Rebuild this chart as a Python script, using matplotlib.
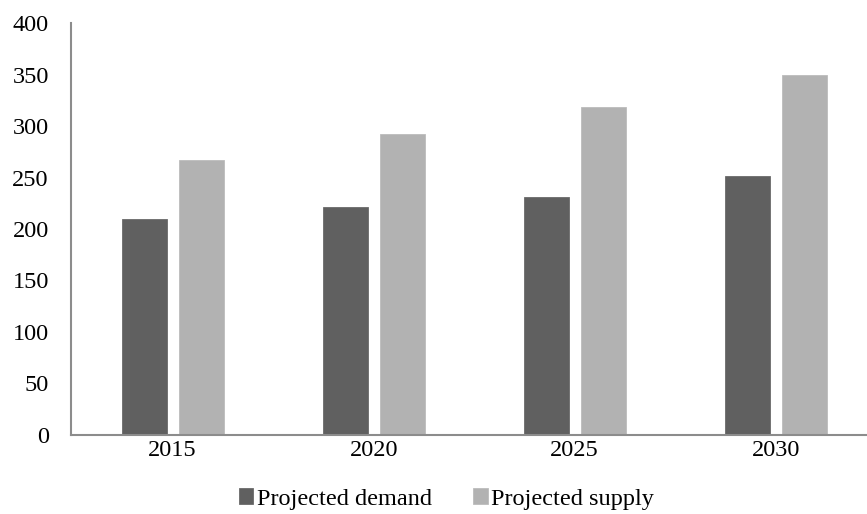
import numpy as np
import matplotlib.pyplot as plt

plt.rcParams["font.family"] = ["Liberation Serif", "DejaVu Serif"]

years = ["2015", "2020", "2025", "2030"]
demand = [210, 221, 231, 251]
supply = [267, 292, 319, 350]

fig = plt.figure(figsize=(8.67, 5.14), dpi=100)
ax = fig.add_axes([0.082, 0.154, 0.917, 0.801])

x = np.arange(len(years))
width = 0.224
ax.bar(x - 0.142, demand, width=width, color="#606060", edgecolor="#6a6a6a", linewidth=0.6, label="Projected demand")
ax.bar(x + 0.142, supply, width=width, color="#b2b2b2", edgecolor="#bcbcbc", linewidth=0.6, label="Projected supply")

ax.set_xlim(-0.505, 3.45)
ax.set_ylim(0, 400)
ax.set_yticks(range(0, 401, 50))
ax.set_xticks(x)
ax.set_xticklabels(years)

for side in ("top", "right"):
    ax.spines[side].set_visible(False)
for side in ("left", "bottom"):
    ax.spines[side].set_color("#8c8c8c")
    ax.spines[side].set_linewidth(1.5)

ax.tick_params(axis="y", length=0, pad=16, labelsize=17.5)
ax.tick_params(axis="x", length=0, pad=4, labelsize=17.5)

fig.legend(
    loc="lower center",
    bbox_to_anchor=(0.515, -0.034),
    ncol=2,
    frameon=False,
    fontsize=17.5,
    handlelength=0.6,
    handleheight=0.6,
    handletextpad=0.15,
    columnspacing=1.7,
)

fig.savefig("out.png", dpi=100)
